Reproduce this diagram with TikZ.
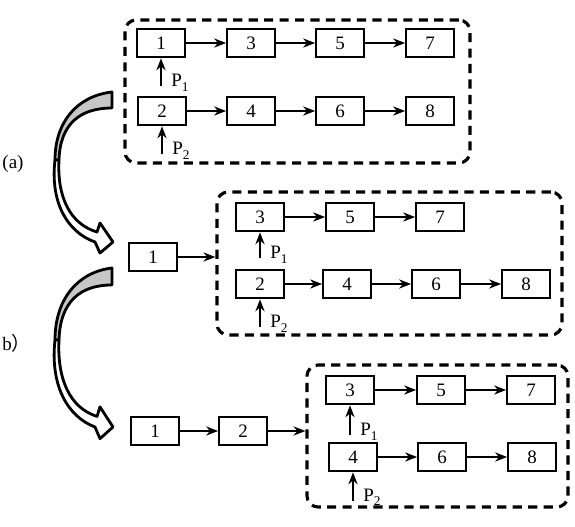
\documentclass[tikz,border=0pt]{standalone}
\usepackage{fontspec}
\setmainfont{Liberation Serif}
\newfontfamily\cjk{Noto Sans CJK SC}
\usetikzlibrary{arrows.meta, positioning, calc}
\tikzset{>={Stealth[length=8.5pt,width=6.5pt]}}
\tikzset{
  blk/.style={draw, line width=1.3pt, minimum width=1.2cm, minimum height=0.72cm,
    inner sep=0pt, font=\fontsize{13.5}{14}\selectfont},
  grp/.style={draw, line width=2.2pt, dash pattern=on 6.5pt off 4.5pt,
    rounded corners=0.28cm, inner sep=0pt},
  conn/.style={line width=1.3pt},
  plbl/.style={anchor=base west, xshift=0.25cm, inner sep=0pt,
    font=\fontsize{13.5}{14}\selectfont},
  rib/.style={line width=2pt, line join=round}
}
\newcommand\sub[1]{\raisebox{-0.55ex}{\fontsize{9.5}{10}\selectfont #1}}
% twisted hollow arrow, drawn from the tail corner
\newcommand\bendarrow{%
  \filldraw[rib, fill=black!22] (0,0) -- (0,16)
    .. controls (-32,16) and (-52,32) .. (-53,68) -- (-57,68)
    .. controls (-57,30) and (-35,4) .. (0,0) -- cycle;
  \filldraw[rib, fill=white] (-57,68) .. controls (-62,110) and (-45,140) .. (-17,150)
    -- (-12,161) -- (1,150) -- (-12,131) -- (-15,140)
    .. controls (-42,132) and (-55,105) .. (-53,68) -- cycle;
}

\begin{document}
\begin{tikzpicture}[x=0.025cm, y=-0.025cm]
  \useasboundingbox (0,0) rectangle (575,527);

  % (a)
  \node[grp, minimum width=8.625cm, minimum height=3.575cm] (ga) at (297.5,91.5) {};
  \node[blk] (a1) at (161,43) {1};
  \node[blk] (a3) at (251,43) {3};
  \node[blk] (a5) at (340,43) {5};
  \node[blk] (a7) at (430,43) {7};
  \node[blk] (a2) at (162,111) {2};
  \node[blk] (a4) at (251,111) {4};
  \node[blk] (a6) at (340,111) {6};
  \node[blk] (a8) at (430,111) {8};
  \draw[->, conn] (a1) -- (a3);
  \draw[->, conn] (a3) -- (a5);
  \draw[->, conn] (a5) -- (a7);
  \draw[->, conn] (a2) -- (a4);
  \draw[->, conn] (a4) -- (a6);
  \draw[->, conn] (a6) -- (a8);
  \coordinate[below=0.7cm of a1] (pa1);
  \coordinate[below=0.7cm of a2] (pa2);
  \draw[->, conn] (pa1) -- (a1);
  \draw[->, conn] (pa2) -- (a2);
  \node[plbl] at (pa1) {P\sub{1}};
  \node[plbl] at (pa2) {P\sub{2}};
  \node[font=\fontsize{13.5}{14}\selectfont, inner sep=0pt] (la) at (13,164) {(a)};

  % (b)
  \node[grp, minimum width=8.625cm, minimum height=3.575cm] (gb) at (389.5,263.5) {};
  \node[blk] (b1) at (153,257) {1};
  \node[blk] (b3) at (260,217) {3};
  \node[blk] (b5) at (350,217) {5};
  \node[blk] (b7) at (440,217) {7};
  \node[blk] (b2) at (260,284) {2};
  \node[blk] (b4) at (347,284) {4};
  \node[blk] (b6) at (436,284) {6};
  \node[blk] (b8) at (526,284) {8};
  \draw[->, conn] (b1) -- (b1 -| gb.west);
  \draw[->, conn] (b3) -- (b5);
  \draw[->, conn] (b5) -- (b7);
  \draw[->, conn] (b2) -- (b4);
  \draw[->, conn] (b4) -- (b6);
  \draw[->, conn] (b6) -- (b8);
  \coordinate[below=0.65cm of b3] (pb1);
  \coordinate[below=0.7cm of b2] (pb2);
  \draw[->, conn] (pb1) -- (b3);
  \draw[->, conn] (pb2) -- (b2);
  \node[plbl] at (pb1) {P\sub{1}};
  \node[plbl] at (pb2) {P\sub{2}};
  \node[anchor=west, inner sep=0pt, font=\fontsize{13.5}{14}\selectfont] (lb) at (2,343) {b{\cjk ）}};

  % (c)
  \node[grp, minimum width=6.525cm, minimum height=3.55cm] (gc) at (437.5,436) {};
  \node[blk] (c1) at (155,431) {1};
  \node[blk] (c2) at (243,431) {2};
  \node[blk] (c3) at (350,390) {3};
  \node[blk] (c5) at (441,390) {5};
  \node[blk] (c7) at (531,390) {7};
  \node[blk] (c4) at (353,457) {4};
  \node[blk] (c6) at (442,457) {6};
  \node[blk] (c8) at (532,457) {8};
  \draw[->, conn] (c1) -- (c2);
  \draw[->, conn] (c2) -- (c2 -| gc.west);
  \draw[->, conn] (c3) -- (c5);
  \draw[->, conn] (c5) -- (c7);
  \draw[->, conn] (c4) -- (c6);
  \draw[->, conn] (c6) -- (c8);
  \coordinate[below=0.75cm of c3] (pc1);
  \coordinate[below=0.72cm of c4] (pc2);
  \draw[->, conn] (pc1) -- (c3);
  \draw[->, conn] (pc2) -- (c4);
  \node[plbl] at (pc1) {P\sub{1}};
  \node[plbl] at (pc2) {P\sub{2}};

  % big bent arrows
  \begin{scope}[shift={(112,92)}]
    \bendarrow
  \end{scope}
  \begin{scope}[shift={(112,268)}, yscale=1.06]
    \bendarrow
  \end{scope}
\end{tikzpicture}
\end{document}
